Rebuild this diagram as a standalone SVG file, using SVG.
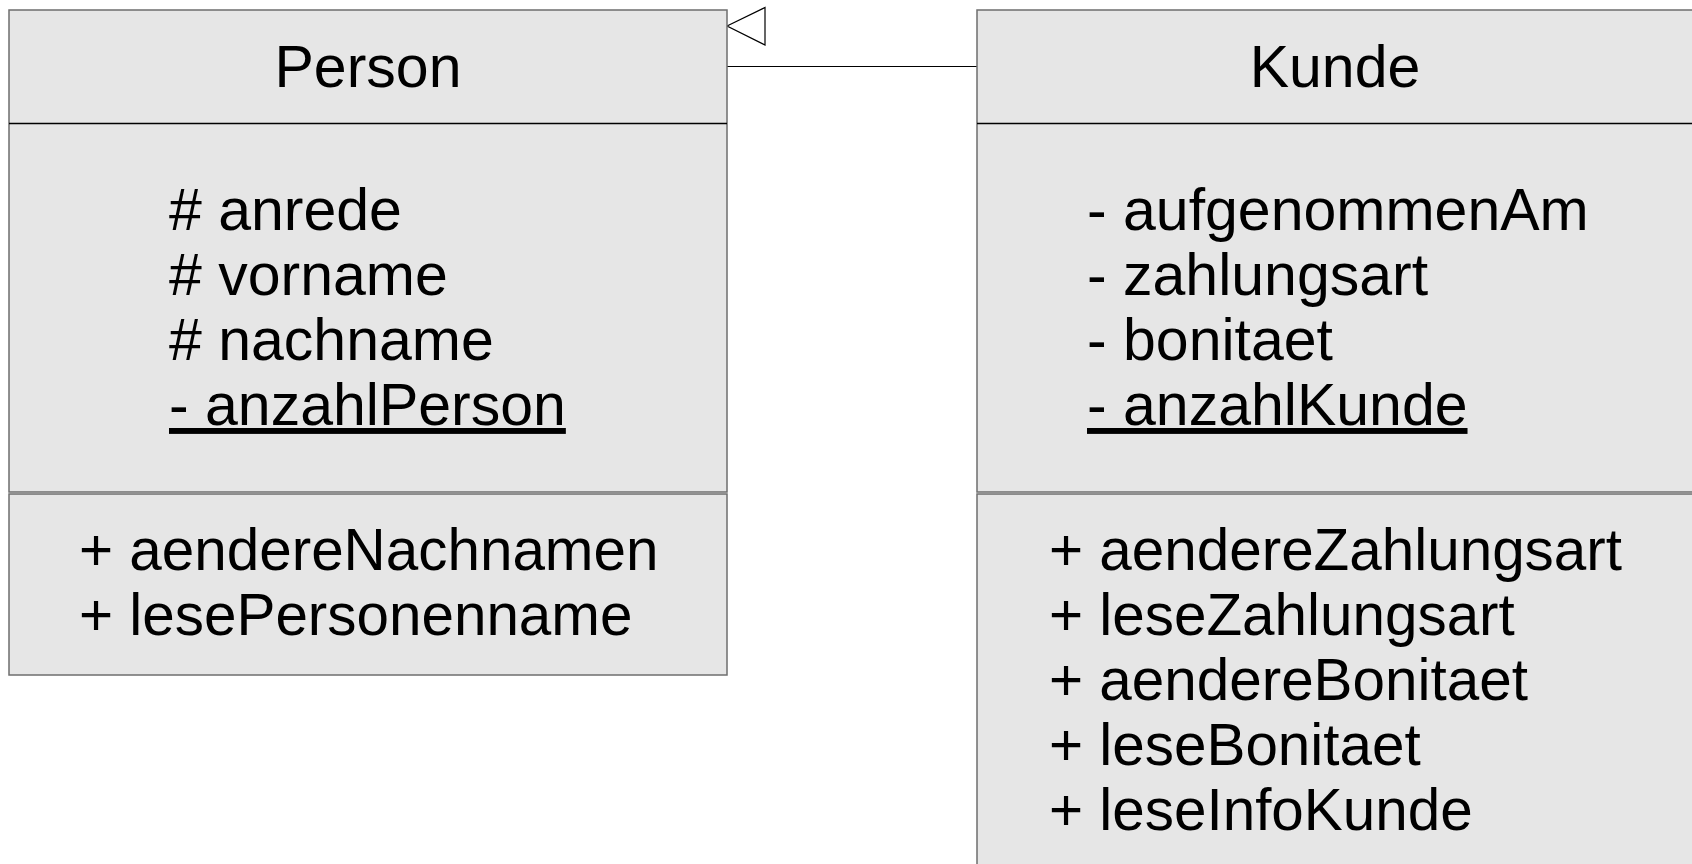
<svg xmlns="http://www.w3.org/2000/svg" width="1692" height="864" viewBox="0 0 1692 864">
<style>
.box{fill:#e6e6e6;stroke:#6e6e6e;stroke-width:1.5}
.div{stroke:#000;stroke-width:1.5}
.t{font-family:"Liberation Sans",Arial,sans-serif;font-size:59px;fill:#000}
.m{font-size:58.4px}
.c{text-anchor:middle}
.u{text-decoration:underline}
.conn{stroke:#000;stroke-width:1.2;fill:none}
</style>
<rect width="1692" height="864" fill="#fff"/>
<g id="connectors">
<line class="conn" x1="727" y1="66.5" x2="977" y2="66.5"/>
<polygon class="conn" points="727,26 765,7.5 765,45" fill="#fff"/>
</g>
<g id="person">
<rect class="box" x="9" y="10" width="718" height="482"/>
<line class="div" x1="9" y1="123.5" x2="727" y2="123.5"/>
<rect class="box" x="9" y="494" width="718" height="181"/>
<text class="t c" x="368" y="87">Person</text>
<text class="t" x="169" y="230"># anrede</text>
<text class="t" x="169" y="295"># vorname</text>
<text class="t" x="169" y="360"># nachname</text>
<text class="t u" x="169" y="425">- anzahlPerson</text>
<text class="t m" x="79" y="570">+ aendereNachnamen</text>
<text class="t m" x="79" y="635">+ lesePersonenname</text>
</g>
<g id="kunde">
<rect class="box" x="977" y="10" width="718" height="482"/>
<line class="div" x1="977" y1="123.5" x2="1695" y2="123.5"/>
<rect class="box" x="977" y="494" width="718" height="400"/>
<text class="t c" x="1335" y="87">Kunde</text>
<text class="t" x="1087" y="230">- aufgenommenAm</text>
<text class="t" x="1087" y="295">- zahlungsart</text>
<text class="t" x="1087" y="360">- bonitaet</text>
<text class="t u" x="1087" y="425">- anzahlKunde</text>
<text class="t m" x="1049" y="570">+ aendereZahlungsart</text>
<text class="t m" x="1049" y="635">+ leseZahlungsart</text>
<text class="t m" x="1049" y="700">+ aendereBonitaet</text>
<text class="t m" x="1049" y="765">+ leseBonitaet</text>
<text class="t m" x="1049" y="830">+ leseInfoKunde</text>
</g>
</svg>
